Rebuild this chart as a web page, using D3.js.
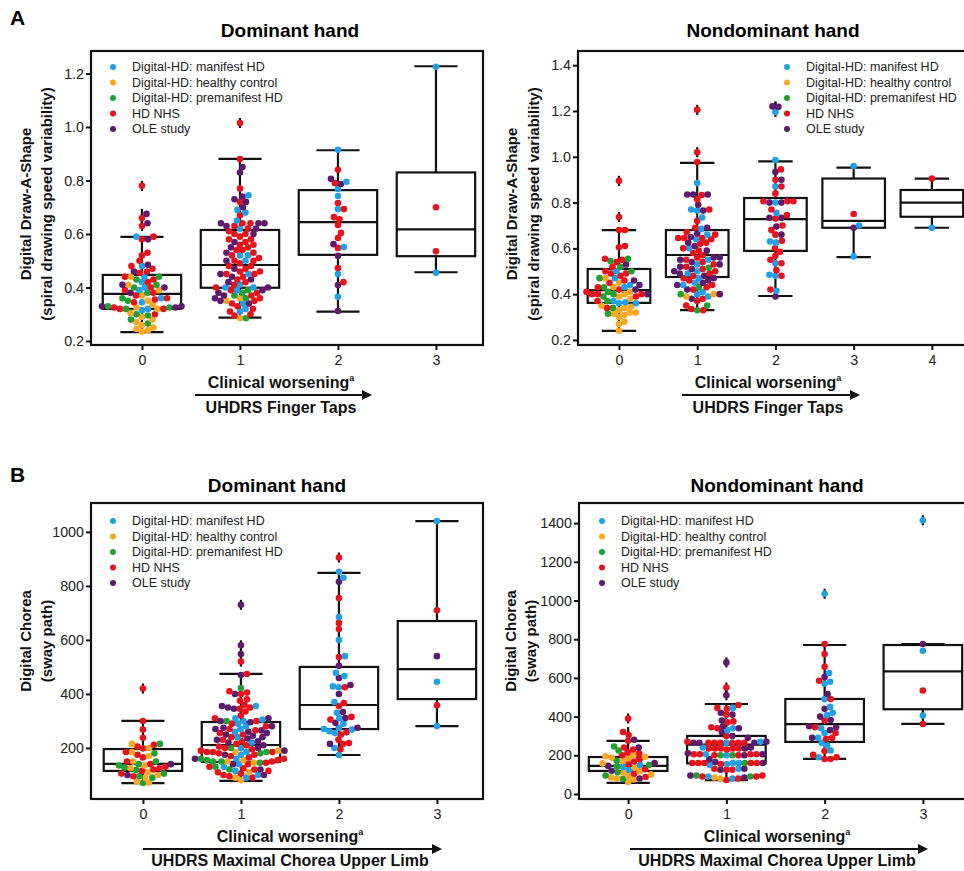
<!DOCTYPE html>
<html>
<head>
<meta charset="utf-8">
<script src="https://cdn.jsdelivr.net/npm/d3@7"></script>
<style>
body { margin: 0; background: #fff; }
text { font-family: Arial, "Liberation Sans", sans-serif; }
</style>
</head>
<body>
<div id="container"></div>
<script>
// groups / colours
var groups = ["Digital-HD: manifest HD", "Digital-HD: healthy control", "Digital-HD: premanifest HD", "HD NHS", "OLE study"];
var groupColors = ["#22a0e6", "#f9a825", "#22a033", "#e5131b", "#5e1b6e"];

// ---- A, dominant hand: Finger Taps vs spiral speed variability (per score 0..3)
var tapsDomManifest = [
  [0.59, 0.48, 0.44, 0.42, 0.40, 0.39, 0.36, 0.345, 0.32, 0.315],
  [0.745, 0.69, 0.68, 0.65, 0.62, 0.52, 0.52, 0.50, 0.45, 0.41, 0.40, 0.40, 0.39, 0.34, 0.32, 0.31],
  [0.915, 0.795, 0.768, 0.742, 0.693, 0.551, 0.45, 0.365],
  [1.225, 0.455]
];
var tapsDomHealthy = [
  [0.44, 0.41, 0.39, 0.37, 0.35, 0.335, 0.325, 0.32, 0.305, 0.29, 0.28, 0.27, 0.26, 0.25, 0.245, 0.24, 0.235],
  [0.36, 0.35, 0.285],
  [], []
];
var tapsDomPre = [
  [0.44, 0.43, 0.41, 0.40, 0.38, 0.36, 0.35, 0.33, 0.325, 0.32, 0.30, 0.295, 0.28, 0.265],
  [0.39, 0.38, 0.37, 0.36, 0.285],
  [], []
];
var tapsDomNhs = [
  [0.78, 0.66, 0.63, 0.59, 0.58, 0.53, 0.52, 0.50, 0.48, 0.47, 0.46, 0.455, 0.44, 0.43, 0.42, 0.40, 0.39, 0.38, 0.37, 0.36, 0.355, 0.345, 0.325, 0.32, 0.32, 0.30],
  [1.015, 0.88, 0.77, 0.72, 0.67, 0.64, 0.64, 0.63, 0.62, 0.61, 0.60, 0.60, 0.59, 0.58, 0.58, 0.57, 0.56, 0.56, 0.55, 0.54, 0.54, 0.53, 0.52, 0.51, 0.50, 0.50, 0.49, 0.48, 0.48, 0.47, 0.46, 0.46, 0.45, 0.45, 0.44, 0.43, 0.42, 0.41, 0.40, 0.39, 0.38, 0.37, 0.36, 0.35, 0.34, 0.33, 0.32, 0.31, 0.30, 0.295],
  [0.84, 0.79, 0.716, 0.693, 0.663, 0.655, 0.634, 0.604, 0.585, 0.548, 0.473, 0.42],
  [0.70, 0.535]
];
var tapsDomOle = [
  [0.675, 0.64, 0.58, 0.485, 0.46, 0.41, 0.40, 0.38, 0.33, 0.33, 0.325],
  [0.85, 0.83, 0.74, 0.73, 0.72, 0.70, 0.64, 0.64, 0.64, 0.63, 0.62, 0.60, 0.57, 0.55, 0.53, 0.50, 0.47, 0.45, 0.44, 0.43, 0.42, 0.40, 0.39, 0.38, 0.37, 0.36, 0.35, 0.34],
  [0.806, 0.787, 0.562, 0.518, 0.409, 0.312],
  []
];
// [lower whisker, q1, median, q3, upper whisker]
var tapsDomBox = [[0.233, 0.32, 0.376, 0.447, 0.589], [0.287, 0.399, 0.484, 0.615, 0.881], [0.31, 0.522, 0.644, 0.764, 0.913], [0.457, 0.517, 0.617, 0.83, 1.227]];
var tapsDomTicks = [0.2, 0.4, 0.6, 0.8, 1.0, 1.2];

// ---- A, nondominant hand (score 0..4)
var tapsNonManifest = [
  [0.50, 0.47, 0.44, 0.43, 0.37, 0.365, 0.36, 0.36],
  [0.885, 0.77, 0.765, 0.735, 0.685, 0.66, 0.64, 0.60, 0.55, 0.53, 0.50, 0.49, 0.47, 0.45, 0.44, 0.41, 0.40, 0.39],
  [1.196, 0.986, 0.87, 0.80, 0.755, 0.63, 0.625, 0.535, 0.485, 0.48, 0.415],
  [0.96, 0.70, 0.565],
  [0.69]
];
var tapsNonHealthy = [
  [0.47, 0.45, 0.43, 0.41, 0.40, 0.39, 0.38, 0.35, 0.345, 0.34, 0.33, 0.32, 0.32, 0.315, 0.31, 0.30, 0.28, 0.27, 0.24],
  [0.40, 0.39], [], [], []
];
var tapsNonPre = [
  [0.555, 0.545, 0.52, 0.50, 0.47, 0.43, 0.41, 0.40, 0.39, 0.37, 0.34, 0.315],
  [0.515, 0.43, 0.40, 0.35, 0.33], [], [], []
];
var tapsNonNhs = [
  [0.895, 0.737, 0.68, 0.68, 0.61, 0.605, 0.555, 0.55, 0.54, 0.52, 0.50, 0.49, 0.49, 0.48, 0.46, 0.45, 0.43, 0.42, 0.41, 0.40, 0.40, 0.40, 0.39, 0.37, 0.34],
  [1.205, 1.02, 0.977, 0.833, 0.815, 0.77, 0.72, 0.69, 0.67, 0.66, 0.645, 0.645, 0.645, 0.64, 0.625, 0.62, 0.60, 0.59, 0.58, 0.57, 0.56, 0.55, 0.54, 0.53, 0.52, 0.51, 0.50, 0.49, 0.48, 0.47, 0.46, 0.44, 0.43, 0.42, 0.38, 0.37, 0.35, 0.335, 0.33],
  [0.945, 0.90, 0.87, 0.84, 0.806, 0.806, 0.806, 0.77, 0.745, 0.73, 0.70, 0.68, 0.66, 0.633, 0.60, 0.585, 0.568, 0.55, 0.535, 0.505, 0.48, 0.42],
  [0.75],
  [0.905]
];
var tapsNonOle = [
  [0.53, 0.46, 0.44, 0.42, 0.40],
  [0.835, 0.835, 0.835, 0.79, 0.765, 0.69, 0.665, 0.65, 0.625, 0.61, 0.59, 0.56, 0.56, 0.55, 0.54, 0.53, 0.52, 0.51, 0.50, 0.49, 0.48, 0.47, 0.46, 0.45, 0.44, 0.42, 0.40, 0.38],
  [1.22, 1.218, 0.934, 0.90, 0.80, 0.80, 0.734, 0.734, 0.695, 0.66, 0.39],
  [0.69],
  []
];
var tapsNonBox = [[0.24, 0.362, 0.418, 0.51, 0.68], [0.33, 0.475, 0.571, 0.68, 0.973], [0.392, 0.589, 0.728, 0.82, 0.98], [0.562, 0.69, 0.72, 0.905, 0.953], [0.69, 0.738, 0.8, 0.855, 0.905]];
var tapsNonTicks = [0.2, 0.4, 0.6, 0.8, 1.0, 1.2, 1.4];

// ---- B, dominant hand: Maximal Chorea Upper Limb vs sway path
var choreaDomManifest = [
  [],
  [355, 310, 305, 300, 290, 280, 270, 260, 240, 220, 200, 185, 175, 160, 140, 130, 115, 100, 90],
  [852, 830, 685, 600, 540, 478, 466, 428, 425, 370, 330, 310, 290, 275, 270, 268, 262, 255, 200, 174],
  [1040, 445, 281]
];
var choreaDomHealthy = [
  [215, 200, 185, 170, 150, 135, 125, 110, 100, 90, 75, 72],
  [190, 185, 155, 150, 145, 110, 90, 80],
  [], []
];
var choreaDomPre = [
  [215, 180, 150, 140, 135, 128, 118, 105, 95, 90, 70],
  [422, 300, 200, 185, 180, 160, 155, 150, 150, 145, 130, 120],
  [], []
];
var choreaDomNhs = [
  [420, 300, 268, 238, 212, 205, 198, 185, 175, 165, 150, 140, 130, 125, 120, 115, 105, 95],
  [520, 474, 410, 405, 400, 380, 375, 360, 350, 345, 335, 320, 310, 300, 290, 280, 270, 265, 255, 250, 240, 230, 225, 215, 210, 205, 200, 195, 190, 185, 185, 185, 180, 175, 170, 165, 160, 155, 150, 145, 140, 130, 125, 120, 115, 110, 105, 100, 95, 90],
  [905, 755, 663, 640, 537, 425, 366, 355, 315, 305, 258, 250, 230, 218, 215, 195],
  [710, 358]
];
var choreaDomOle = [
  [140, 100],
  [730, 580, 548, 470, 400, 355, 350, 345, 310, 300, 295, 280, 275, 270, 265, 260, 255, 250, 245, 240, 235, 230, 225, 220, 210, 200, 190, 175, 160, 140, 120, 100],
  [815, 504, 459, 433, 400, 333, 311, 293, 275, 215],
  [540]
];
var choreaDomBox = [[70, 115, 141, 196, 300], [78, 148, 211, 296, 474], [174, 270, 359, 500, 848], [281, 381, 492, 670, 1040]];
var choreaDomTicks = [200, 400, 600, 800, 1000];

// ---- B, nondominant hand
var choreaNonManifest = [
  [150, 140, 125],
  [445, 340, 330, 270, 265, 240, 205, 200, 160, 160, 155, 150, 130, 90, 80],
  [1035, 625, 580, 570, 490, 450, 420, 408, 340, 315, 290, 265, 250, 225, 190],
  [1415, 740, 405]
];
var choreaNonHealthy = [
  [200, 195, 192, 188, 185, 170, 158, 135, 118, 110, 100, 92, 85, 80, 75, 62],
  [85, 80], [], []
];
var choreaNonPre = [
  [245, 225, 172, 150, 142, 112, 95, 78],
  [200, 200, 160, 95, 90], [], []
];
var choreaNonNhs = [
  [390, 320, 305, 275, 240, 230, 215, 210, 200, 180, 168, 155, 128, 105, 88],
  [550, 460, 445, 440, 410, 375, 370, 345, 340, 300, 270, 265, 265, 265, 265, 265, 265, 235, 235, 235, 235, 235, 230, 205, 205, 205, 205, 200, 200, 160, 160, 160, 160, 160, 155, 130, 125, 125, 95, 90, 90, 80, 72],
  [775, 723, 657, 585, 491, 380, 345, 315, 290, 285, 222, 202, 190, 181, 181],
  [535, 362]
];
var choreaNonOle = [
  [280, 240, 160, 145, 120, 80],
  [680, 510, 420, 410, 380, 350, 340, 320, 300, 290, 270, 265, 265, 265, 240, 235, 210, 205, 200, 180, 165, 160, 130, 125, 95, 85],
  [605, 517, 440, 400, 382, 350, 345, 330, 290],
  [775]
];
var choreaNonBox = [[57, 119, 145, 191, 274], [72, 158, 255, 300, 465], [181, 269, 361, 491, 770], [362, 438, 634, 770, 775]];
var choreaNonTicks = [0, 200, 400, 600, 800, 1000, 1200, 1400];

var scoresFour = [0, 1, 2, 3],
    scoresFive = [0, 1, 2, 3, 4];

// layout of the four panels
var panels = [
  { letter: "A", letterY: 25, title: "Dominant hand", titleX: 290, titleY: 37,
    series: [tapsDomManifest, tapsDomHealthy, tapsDomPre, tapsDomNhs, tapsDomOle], box: tapsDomBox,
    ticks: tapsDomTicks, fmt: d3.format(".1f"), cats: scoresFour,
    left: 91, right: 483, top: 51, bottom: 345, xDom: [-0.52, 3.48], yDom: [0.185, 1.284],
    ylab: ["Digital Draw-A-Shape", "(spiral drawing speed variability)"], ylabX: [25, 46], ylabY: 204,
    legX: 113, legY: 67, xlab: "UHDRS Finger Taps", xlabX: 281, xlabY: [388, 413], arrow: [195, 372, 395] },
  { title: "Nondominant hand", titleX: 773, titleY: 37,
    series: [tapsNonManifest, tapsNonHealthy, tapsNonPre, tapsNonNhs, tapsNonOle], box: tapsNonBox,
    ticks: tapsNonTicks, fmt: d3.format(".1f"), cats: scoresFive,
    left: 578, right: 971, top: 51, bottom: 345, xDom: [-0.524, 4.5], yDom: [0.178, 1.462],
    ylab: ["Digital Draw-A-Shape", "(spiral drawing speed variability)"], ylabX: [511, 533], ylabY: 204,
    legX: 787, legY: 67, xlab: "UHDRS Finger Taps", xlabX: 768, xlabY: [388, 413], arrow: [682, 860, 395] },
  { letter: "B", letterY: 482, title: "Dominant hand", titleX: 277, titleY: 492,
    series: [choreaDomManifest, choreaDomHealthy, choreaDomPre, choreaDomNhs, choreaDomOle], box: choreaDomBox,
    ticks: choreaDomTicks, fmt: d3.format("d"), cats: scoresFour,
    left: 91, right: 483, top: 503, bottom: 799, xDom: [-0.53, 3.47], yDom: [11, 1107],
    ylab: ["Digital Chorea", "(sway path)"], ylabX: [25, 46], ylabY: 641,
    legX: 113, legY: 521, xlab: "UHDRS Maximal Chorea Upper Limb", xlabX: 290, xlabY: [842, 866], arrow: [143, 442, 849] },
  { title: "Nondominant hand", titleX: 777, titleY: 492,
    series: [choreaNonManifest, choreaNonHealthy, choreaNonPre, choreaNonNhs, choreaNonOle], box: choreaNonBox,
    ticks: choreaNonTicks, fmt: d3.format("d"), cats: scoresFour,
    left: 579, right: 972, top: 503, bottom: 799, xDom: [-0.5, 3.5], yDom: [-26, 1504],
    ylab: ["Digital Chorea", "(sway path)"], ylabX: [510, 530], ylabY: 641,
    legX: 602, legY: 521, xlab: "UHDRS Maximal Chorea Upper Limb", xlabX: 777, xlabY: [842, 866], arrow: [630, 928, 849] }
];

var dotR = 3.3;

var svg = d3.select("#container").append("svg")
    .attr("width", 964)
    .attr("height", 871);

svg.append("defs").append("marker")
    .attr("id", "head")
    .attr("viewBox", "0 0 10 10")
    .attr("refX", 2).attr("refY", 5)
    .attr("markerWidth", 5).attr("markerHeight", 5)
    .attr("orient", "auto")
  .append("path")
    .attr("d", "M0,0 L10,5 L0,10 z")
    .attr("fill", "#111");

// simple beeswarm: each point takes the offset nearest the centre that does not overlap
function swarm(points, r) {
  var placed = [];
  var minD = 2 * r * 0.88;
  var sorted = points.slice().sort(function(a, b) { return b.py - a.py; });
  sorted.forEach(function(p) {
    for (var k = 0; k < 400; k++) {
      var off = (k % 2 ? 1 : -1) * Math.ceil(k / 2) * 0.5;
      var ok = placed.every(function(q) {
        var dx = off - q.dx, dy = p.py - q.py;
        return dx * dx + dy * dy >= minD * minD;
      });
      if (ok) { p.dx = off; break; }
    }
    placed.push(p);
  });
  return sorted;
}

panels.forEach(function(p) {
  var g = svg.append("g");
  var x = d3.scaleLinear().domain(p.xDom).range([p.left, p.right]);
  var y = d3.scaleLinear().domain(p.yDom).range([p.bottom, p.top]);
  var unit = x(1) - x(0);

  if (p.letter) {
    g.append("text").attr("x", 10).attr("y", p.letterY)
      .attr("font-size", "21px").attr("font-weight", "bold").text(p.letter);
  }
  g.append("text").attr("x", p.titleX).attr("y", p.titleY)
    .attr("text-anchor", "middle").attr("font-size", "19px").attr("font-weight", "bold")
    .text(p.title);

  // frame
  g.append("rect")
    .attr("x", p.left).attr("y", p.top)
    .attr("width", p.right - p.left).attr("height", p.bottom - p.top)
    .attr("fill", "none").attr("stroke", "#111").attr("stroke-width", 2.2);

  var yAxis = g.append("g")
    .attr("transform", "translate(" + p.left + ",0)")
    .call(d3.axisLeft(y).tickValues(p.ticks).tickFormat(p.fmt).tickSize(5).tickPadding(2));
  var xAxis = g.append("g")
    .attr("transform", "translate(0," + p.bottom + ")")
    .call(d3.axisBottom(x).tickValues(p.cats).tickFormat(d3.format("d")).tickSize(5).tickPadding(5));
  [yAxis, xAxis].forEach(function(a) {
    a.select(".domain").remove();
    a.selectAll(".tick line").attr("stroke", "#111").attr("stroke-width", 2);
    a.selectAll(".tick text").attr("font-size", "14.3px").attr("fill", "#222")
      .style("font-family", "Arial, 'Liberation Sans', sans-serif");
  });

  // y label
  p.ylab.forEach(function(t, i) {
    g.append("text")
      .attr("transform", "translate(" + p.ylabX[i] + "," + p.ylabY + ") rotate(-90)")
      .attr("text-anchor", "middle").attr("dominant-baseline", "central")
      .attr("font-size", "15px").attr("font-weight", "bold").attr("fill", "#111")
      .text(t);
  });

  // x labels + arrow
  var cw = g.append("text").attr("x", p.xlabX).attr("y", p.xlabY[0])
    .attr("text-anchor", "middle").attr("font-size", "16px").attr("font-weight", "bold").attr("fill", "#111");
  cw.append("tspan").text("Clinical worsening");
  cw.append("tspan").attr("font-size", "9px").attr("dy", "-7").text("a");
  g.append("line")
    .attr("x1", p.arrow[0]).attr("x2", p.arrow[1] - 8)
    .attr("y1", p.arrow[2]).attr("y2", p.arrow[2])
    .attr("stroke", "#111").attr("stroke-width", 2)
    .attr("marker-end", "url(#head)");
  g.append("text").attr("x", p.xlabX).attr("y", p.xlabY[1])
    .attr("text-anchor", "middle").attr("font-size", "16px").attr("font-weight", "bold").attr("fill", "#111")
    .text(p.xlab);

  // boxes
  p.cats.forEach(function(c, i) {
    var b = p.box[i], cx = x(c), bw = 0.4 * unit, cap = 0.22 * unit;
    var bg = g.append("g").attr("stroke", "#111").attr("stroke-width", 2.2).attr("fill", "none");
    bg.append("line").attr("x1", cx).attr("x2", cx).attr("y1", y(b[0])).attr("y2", y(b[1]));
    bg.append("line").attr("x1", cx).attr("x2", cx).attr("y1", y(b[3])).attr("y2", y(b[4]));
    bg.append("line").attr("x1", cx - cap).attr("x2", cx + cap).attr("y1", y(b[0])).attr("y2", y(b[0]));
    bg.append("line").attr("x1", cx - cap).attr("x2", cx + cap).attr("y1", y(b[4])).attr("y2", y(b[4]));
    bg.append("rect").attr("x", cx - bw).attr("y", y(b[3]))
      .attr("width", 2 * bw).attr("height", y(b[1]) - y(b[3]));
    bg.append("line").attr("x1", cx - bw).attr("x2", cx + bw).attr("y1", y(b[2])).attr("y2", y(b[2]));

    // points of this score
    var pts = [];
    p.series.forEach(function(s, gi) {
      (s[i] || []).forEach(function(v) { pts.push({ v: v, g: gi, py: y(v) }); });
    });
    pts = swarm(pts, dotR);

    // outlier marks (black, at the centre line)
    pts.filter(function(d) { return d.py < y(b[4]) - 3 || d.py > y(b[0]) + 3; })
      .forEach(function(d) {
        g.append("line").attr("x1", cx).attr("x2", cx)
          .attr("y1", d.py - 5).attr("y2", d.py + 5)
          .attr("stroke", "#111").attr("stroke-width", 2.2);
      });

    g.selectAll(null).data(pts).enter().append("circle")
      .attr("cx", function(d) { return cx + d.dx; })
      .attr("cy", function(d) { return d.py; })
      .attr("r", dotR)
      .attr("fill", function(d) { return groupColors[d.g]; });
  });

  // legend
  var leg = g.selectAll(".leg").data(groups).enter().append("g")
    .attr("transform", function(_, i) { return "translate(" + p.legX + "," + (p.legY + i * 15.5) + ")"; });
  leg.append("circle").attr("r", 3).attr("fill", function(_, i) { return groupColors[i]; });
  leg.append("text").attr("x", 19).attr("dy", "0.35em")
    .attr("font-size", "12.5px").attr("fill", "#222")
    .text(function(d) { return d; });
});
</script>
</body>
</html>
